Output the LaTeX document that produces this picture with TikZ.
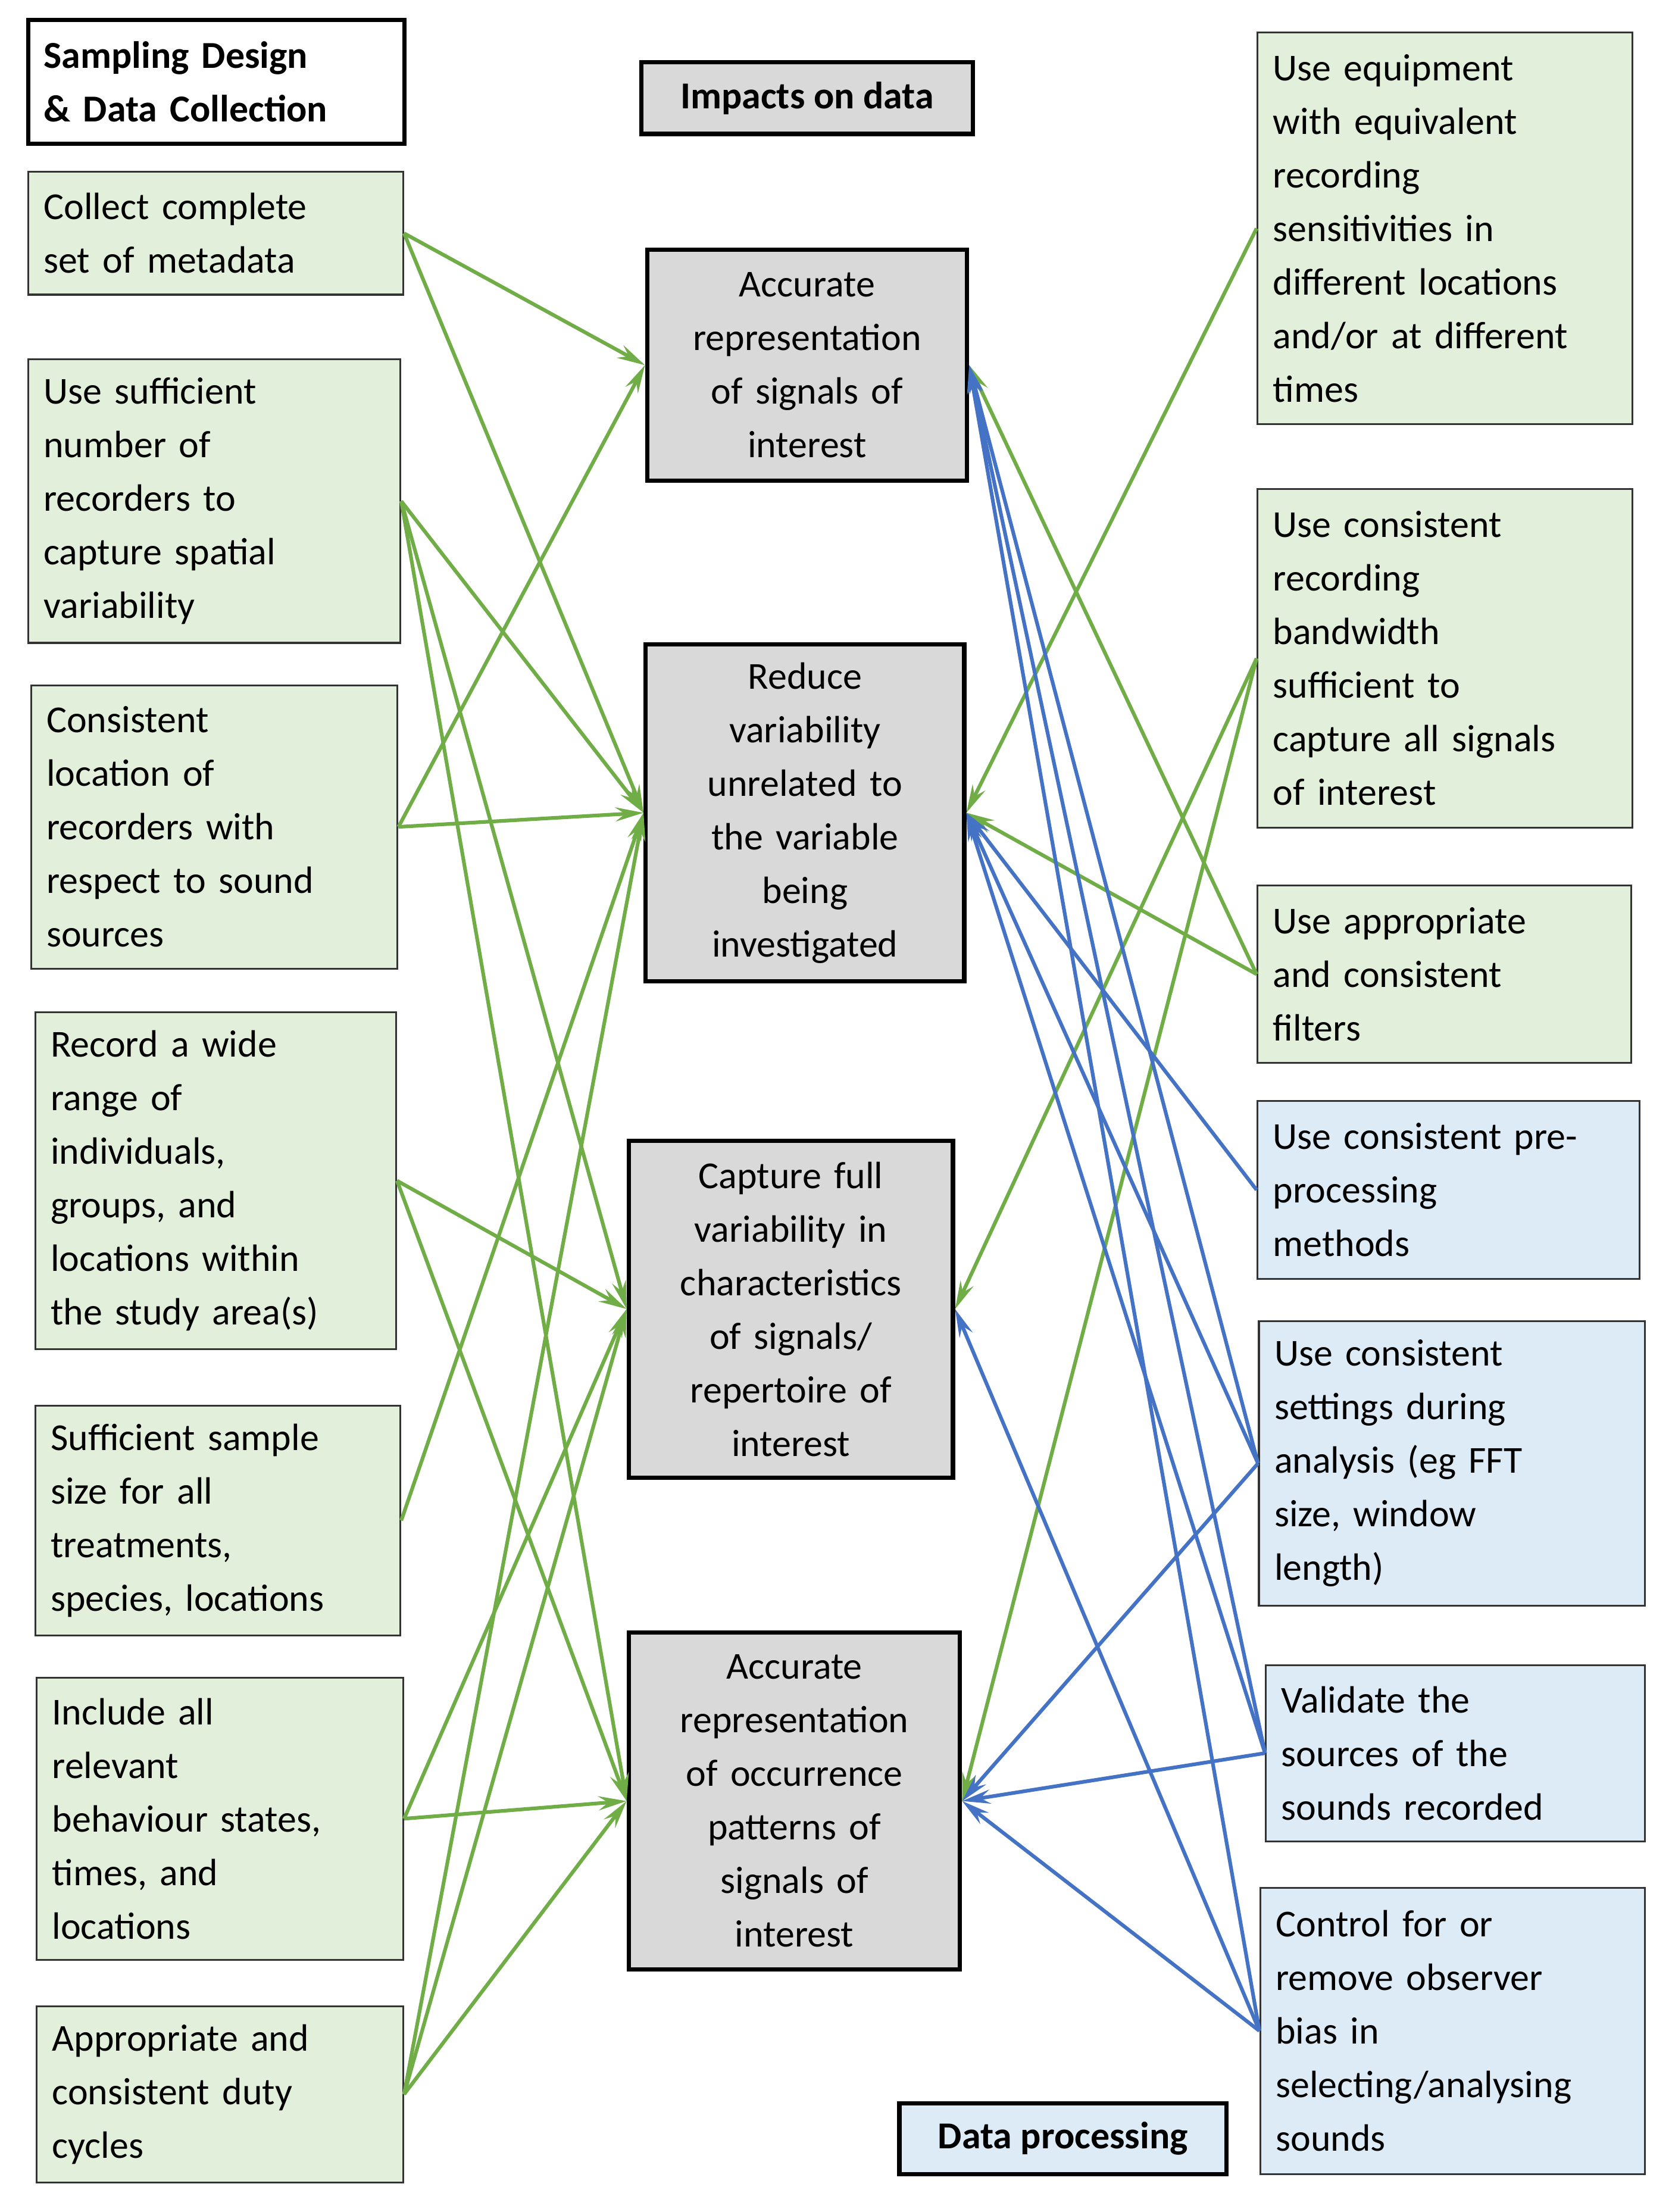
\documentclass[tikz,border=0pt]{standalone}
\usepackage{fontspec}
\setmainfont{Carlito}
\usetikzlibrary{arrows.meta}
\definecolor{lg}{HTML}{E2EFDA}
\definecolor{lb}{HTML}{DDEBF7}
\definecolor{gy}{HTML}{D9D9D9}
\definecolor{ga}{HTML}{70AD47}
\definecolor{ba}{HTML}{4472C4}
\newcommand{\fs}{\fontsize{27}{38}\selectfont}
\begin{document}
\begin{tikzpicture}[x=1pt,y=-1pt,
  base/.style={inner xsep=11pt,inner ysep=0pt,font=\fs},
  gbox/.style={base,draw=black!80,line width=1.3pt,fill=lg,align=left},
  bbox/.style={base,draw=black!80,line width=1.3pt,fill=lb,align=left},
  cbox/.style={base,draw=black,line width=3pt,fill=gy,align=center},
  hbox/.style={base,draw=black,line width=3pt,fill=white,align=left,font=\fs\bfseries},
  ga/.style={draw=ga,line width=2.6pt,-{Stealth[length=20pt,width=10pt,inset=7pt]}},
  ba/.style={draw=ba,line width=2.6pt,-{Stealth[length=20pt,width=10pt,inset=7pt]}}]
\useasboundingbox (0,0) rectangle (1186,1569);
\fill[white] (0,0) rectangle (1186,1569);
\node[hbox,minimum width=267pt,text width=245pt,minimum height=88pt] (H1) at (153.5,58) {Sampling Design\\\& Data Collection};
\node[hbox,minimum width=235pt,minimum height=51pt,fill=gy,align=center] (H2) at (572.5,69.5) {Impacts on data};
\node[hbox,minimum width=232pt,minimum height=50pt,fill=lb,align=center] (H3) at (754,1517) {Data processing};

\node[gbox,minimum width=266pt,text width=244pt,minimum height=87pt] (L1) at (153,165.5) {Collect complete\\set of metadata};
\node[gbox,minimum width=264pt,text width=242pt,minimum height=201pt] (L2) at (152,355.5) {Use sufficient\\number of\\recorders to\\capture spatial\\variability};
\node[gbox,minimum width=260pt,text width=238pt,minimum height=201pt] (L3) at (152,586.5) {Consistent\\location of\\recorders with\\respect to sound\\sources};
\node[gbox,minimum width=256pt,text width=234pt,minimum height=239pt] (L4) at (153,837.5) {Record a wide\\range of\\individuals,\\groups, and\\locations within\\the study area(s)};
\node[gbox,minimum width=259pt,text width=237pt,minimum height=163pt] (L5) at (154.5,1078.5) {Sufficient sample\\size for all\\treatments,\\species, locations};
\node[gbox,minimum width=260pt,text width=238pt,minimum height=200pt] (L6) at (156,1290) {Include all\\relevant\\behaviour states,\\times, and\\locations};
\node[gbox,minimum width=260pt,text width=238pt,minimum height=125pt] (L7) at (156,1485.5) {Appropriate and\\consistent duty\\cycles};

\node[cbox,minimum width=227pt,text width=205pt,minimum height=164pt] (C1) at (572.5,259) {Accurate\\representation\\of signals of\\interest};
\node[cbox,minimum width=226pt,text width=204pt,minimum height=239pt] (C2) at (571,576.5) {Reduce\\variability\\unrelated to\\the variable\\being\\investigated};
\node[cbox,minimum width=230pt,text width=208pt,minimum height=239pt] (C3) at (561,928.5) {Capture full\\variability in\\characteristics\\of signals/\\repertoire of\\interest};
\node[cbox,minimum width=235pt,text width=213pt,minimum height=239pt] (C4) at (563.5,1277.5) {Accurate\\representation\\of occurrence\\patterns of\\signals of\\interest};

\node[gbox,minimum width=266pt,text width=244pt,minimum height=278pt] (R1) at (1025,162) {Use equipment\\with equivalent\\recording\\sensitivities in\\different locations\\and/or at different\\times};
\node[gbox,minimum width=266pt,text width=244pt,minimum height=240pt] (R2) at (1025,467) {Use consistent\\recording\\bandwidth\\sufficient to\\capture all signals\\of interest};
\node[gbox,minimum width=265pt,text width=243pt,minimum height=126pt] (R3) at (1024.5,691) {Use appropriate\\and consistent\\filters};
\node[bbox,minimum width=271pt,text width=249pt,minimum height=126pt] (R4) at (1027.5,844) {Use consistent pre-\\processing\\methods};
\node[bbox,minimum width=274pt,text width=252pt,minimum height=202pt] (R5) at (1030,1038) {Use consistent\\settings during\\analysis (eg FFT\\size, window\\length)};
\node[bbox,minimum width=269pt,text width=247pt,minimum height=125pt] (R6) at (1032.5,1243.5) {Validate the\\sources of the\\sounds recorded};
\node[bbox,minimum width=273pt,text width=251pt,minimum height=203pt] (R7) at (1030.5,1440.5) {Control for or\\remove observer\\bias in\\selecting/analysing\\sounds};

% green left
\foreach \a/\b in {L1/C1,L1/C2,L2/C2,L2/C3,L2/C4,L3/C1,L3/C2,L4/C3,L4/C4,L5/C2,L6/C3,L6/C4,L7/C2,L7/C3,L7/C4}
  \draw[ga] (\a.east) -- (\b.west);
% green right
\foreach \a/\b in {R1/C2,R2/C3,R2/C4,R3/C1,R3/C2}
  \draw[ga] (\a.west) -- (\b.east);
% blue right
\foreach \a/\b in {R4/C2,R5/C1,R5/C2,R5/C4,R6/C1,R6/C2,R6/C4,R7/C1,R7/C3,R7/C4}
  \draw[ba] (\a.west) -- (\b.east);
\end{tikzpicture}
\end{document}
